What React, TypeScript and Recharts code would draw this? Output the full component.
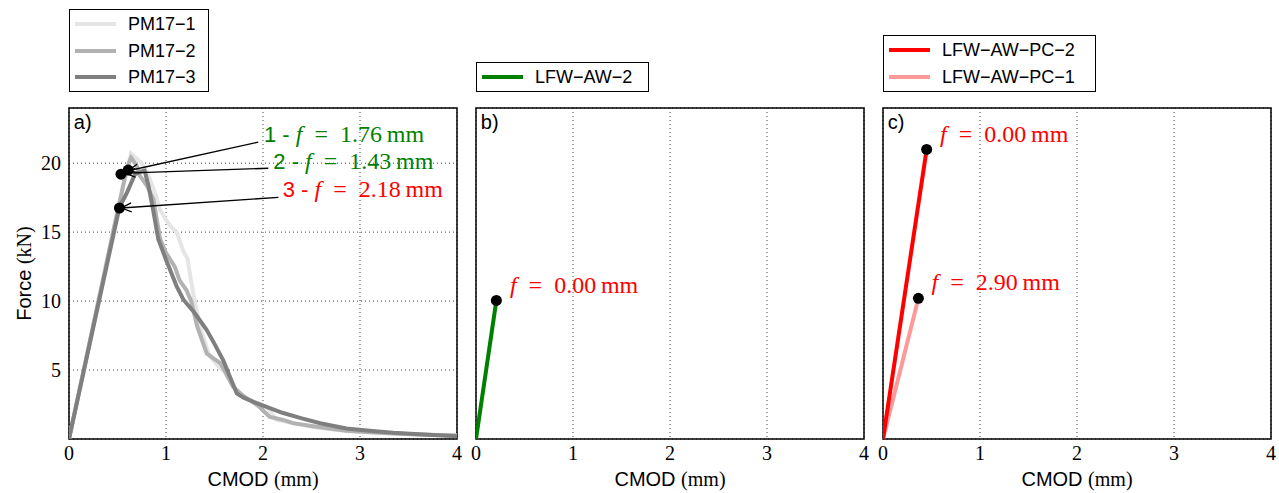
import React from 'react'
import { LineChart, Line, XAxis, YAxis, CartesianGrid, ReferenceArea, ReferenceDot, ReferenceLine } from 'recharts'

const xTicks = [0, 1, 2, 3, 4]
const yTicks = [5, 10, 15, 20]

// panel a) PM17 specimens (CMOD in mm, force in kN)
const pm1X = [0, 0.2, 0.4, 0.55, 0.64, 0.75, 0.82, 0.9, 0.94, 1.0, 1.05, 1.11, 1.18, 1.22, 1.28, 1.35, 1.45, 1.55, 1.63, 1.73, 1.85, 2.04, 2.14, 2.3, 2.52, 2.75, 3.0, 3.3, 3.6, 4.0]
const pm1Y = [0, 6.6, 13.2, 18.1, 20.7, 20.0, 19.1, 17.6, 16.6, 15.9, 15.4, 15.0, 13.6, 13.1, 10.6, 8.15, 6.0, 5.2, 4.75, 3.4, 2.9, 2.3, 1.4, 1.15, 0.87, 0.65, 0.5, 0.4, 0.32, 0.25]
const pm2X = [0, 0.3, 0.5, 0.6, 0.64, 0.7, 0.73, 0.8, 0.87, 0.94, 1.0, 1.09, 1.14, 1.21, 1.26, 1.32, 1.42, 1.5, 1.56, 1.69, 1.8, 1.95, 2.07, 2.2, 2.31, 2.5, 2.86, 3.2, 3.6, 4.0]
const pm2Y = [0, 9.9, 16.5, 19.7, 20.4, 19.8, 19.1, 18.4, 17.4, 14.5, 13.5, 12.5, 11.5, 10.8, 10.0, 8.2, 6.2, 5.8, 5.5, 3.8, 3.1, 2.4, 1.6, 1.4, 1.15, 0.95, 0.6, 0.45, 0.33, 0.25]
const pm3X = [0, 0.3, 0.52, 0.6, 0.68, 0.75, 0.78, 0.82, 0.87, 0.92, 1.0, 1.04, 1.11, 1.18, 1.3, 1.42, 1.5, 1.59, 1.66, 1.73, 1.8, 1.9, 2.05, 2.2, 2.4, 2.59, 2.86, 3.1, 3.34, 3.7, 4.0]
const pm3Y = [0, 9.7, 16.8, 17.9, 19.2, 19.4, 19.45, 18.35, 16.5, 14.5, 13.0, 12.3, 11.07, 10.1, 9.1, 7.9, 6.9, 5.7, 4.5, 3.3, 3.0, 2.7, 2.3, 1.9, 1.5, 1.14, 0.76, 0.6, 0.45, 0.3, 0.2]

// panel b)
const aw2X = [0, 0.21]
const aw2Y = [0, 10.05]

// panel c)
const pc1X = [0, 0.365]
const pc1Y = [0, 10.2]
const pc2X = [0, 0.45]
const pc2Y = [0, 21.0]

const SERIF = '"Liberation Serif", "DejaVu Serif", serif'
const SANS = '"Liberation Sans", Arial, sans-serif'
const GREEN = '#008000'
const RED = '#ff0000'

const toPts = (xs: number[], ys: number[]) => xs.map((x, i) => ({ x, y: ys[i] }))

type Series = { name: string; color: string; points: { x: number; y: number }[] }
type Note = { x: number; y: number; prefix?: string; value: string; color: string }
type Arrow = { from: [number, number]; to: [number, number] }

const panels = [
  {
    id: 'a',
    left: 69,
    showY: true,
    legend: { top: 9, width: 140, height: 83 },
    series: [
      { name: 'PM17\u22121', color: '#e5e5e5', points: toPts(pm1X, pm1Y) },
      { name: 'PM17\u22122', color: '#b2b2b2', points: toPts(pm2X, pm2Y) },
      { name: 'PM17\u22123', color: '#7f7f7f', points: toPts(pm3X, pm3Y) },
    ] as Series[],
    legendOrder: [0, 1, 2],
    drawOrder: [0, 1, 2],
    dots: [[0.536, 19.2], [0.61, 19.5], [0.52, 16.75]] as [number, number][],
    arrows: [
      { from: [1.951, 21.53], to: [0.611, 19.45] },
      { from: [2.055, 19.63], to: [0.58, 19.28] },
      { from: [2.158, 17.52], to: [0.54, 16.75] },
    ] as Arrow[],
    notes: [
      { x: 2.01, y: 21.56, prefix: '1 - ', value: '1.76', color: GREEN },
      { x: 2.106, y: 19.56, prefix: '2 - ', value: '1.43', color: GREEN },
      { x: 2.203, y: 17.52, prefix: '3 - ', value: '2.18', color: RED },
    ] as Note[],
  },
  {
    id: 'b',
    left: 476,
    showY: false,
    legend: { top: 62, width: 173, height: 30 },
    series: [{ name: 'LFW\u2212AW\u22122', color: GREEN, points: toPts(aw2X, aw2Y) }] as Series[],
    legendOrder: [0],
    drawOrder: [0],
    dots: [[0.21, 10.05]] as [number, number][],
    arrows: [] as Arrow[],
    notes: [{ x: 0.35, y: 10.6, value: '0.00', color: RED }] as Note[],
  },
  {
    id: 'c',
    left: 883,
    showY: false,
    legend: { top: 35, width: 213, height: 57 },
    series: [
      { name: 'LFW\u2212AW\u2212PC\u22121', color: '#ff9999', points: toPts(pc1X, pc1Y) },
      { name: 'LFW\u2212AW\u2212PC\u22122', color: RED, points: toPts(pc2X, pc2Y) },
    ] as Series[],
    legendOrder: [1, 0],
    drawOrder: [0, 1],
    dots: [[0.45, 21.0], [0.365, 10.2]] as [number, number][],
    arrows: [] as Arrow[],
    notes: [
      { x: 0.588, y: 21.56, value: '0.00', color: RED },
      { x: 0.5, y: 10.8, value: '2.90', color: RED },
    ] as Note[],
  },
]

const YW = 69
const PLOT_W = 388
const CHART_W = YW + PLOT_W + 13
const CHART_H = 493

function ArrowShape(p: any) {
  const { x1, y1, x2, y2 } = p
  const a = Math.atan2(y2 - y1, x2 - x1)
  const L = 11
  const s = 0.42
  const h1x = x2 - L * Math.cos(a - s)
  const h1y = y2 - L * Math.sin(a - s)
  const h2x = x2 - L * Math.cos(a + s)
  const h2y = y2 - L * Math.sin(a + s)
  return (
    <g>
      <line x1={x1} y1={y1} x2={x2} y2={y2} stroke="#000" strokeWidth={1.3} />
      <path d={`M${h1x},${h1y}L${x2},${y2}L${h2x},${h2y}`} fill="none" stroke="#000" strokeWidth={1.3} />
    </g>
  )
}

function noteShape(n: Note) {
  return (p: any) => (
    <text x={p.cx} y={p.cy} fill={n.color} fontSize={24} style={{ whiteSpace: 'pre' }}>
      {n.prefix && <tspan fontFamily={SANS} fontSize={22}>{n.prefix}</tspan>}
      <tspan fontFamily={SERIF} fontStyle="italic">f</tspan>
      <tspan fontFamily={SERIF}>{`\u2002=\u2002${n.value}\u2009mm`}</tspan>
    </text>
  )
}

function Legend({ panel }: { panel: (typeof panels)[number] }) {
  const { legend } = panel
  return (
    <div
      style={{
        position: 'absolute',
        left: panel.left,
        top: legend.top,
        width: legend.width,
        height: legend.height,
        boxSizing: 'border-box',
        border: '1.5px solid #000',
        background: '#fff',
        paddingTop: 1,
        fontFamily: SANS,
        fontSize: 18,
      }}
    >
      {panel.legendOrder.map((i) => {
        const s = panel.series[i]
        return (
          <div key={s.name} style={{ height: 26.5, display: 'flex', alignItems: 'center' }}>
            <span style={{ display: 'inline-block', width: 41, height: 4, marginLeft: 5, background: s.color }} />
            <span style={{ marginLeft: 12, lineHeight: '18px' }}>{s.name}</span>
          </div>
        )
      })}
    </div>
  )
}

function Panel({ panel }: { panel: (typeof panels)[number] }) {
  return (
    <div style={{ position: 'absolute', left: panel.left - YW, top: 0 }}>
      <LineChart width={CHART_W} height={CHART_H} margin={{ top: 108, right: 13, bottom: 0, left: 0 }}>
        <CartesianGrid stroke="#444" strokeDasharray="1 3" strokeWidth={1} />
        <XAxis
          dataKey="x"
          type="number"
          domain={[0, 4]}
          ticks={xTicks}
          allowDataOverflow
          height={54}
          axisLine={false}
          tickLine={false}
          tickSize={6}
          tickMargin={1}
          tick={{ fontFamily: SERIF, fontSize: 20, fill: '#000' }}
          label={{
            content: (lp: any) => {
              const vb = lp.viewBox
              return (
                <text x={vb.x + vb.width / 2} y={vb.y + 47} textAnchor="middle" fontSize={20} fill="#000">
                  <tspan fontFamily={SANS}>CMOD </tspan>
                  <tspan fontFamily={SERIF}>(mm)</tspan>
                </text>
              )
            },
          }}
        />
        <YAxis
          type="number"
          domain={[0, 24]}
          ticks={yTicks}
          allowDataOverflow
          width={YW}
          axisLine={false}
          tickLine={false}
          tick={panel.showY ? { fontFamily: SERIF, fontSize: 20, fill: '#000' } : false}
          label={
            panel.showY
              ? {
                  content: (lp: any) => {
                    const vb = lp.viewBox
                    const cx = 31
                    const cy = vb.y + vb.height / 2
                    return (
                      <text x={cx} y={cy} textAnchor="middle" fontSize={20} fill="#000" transform={`rotate(-90 ${cx} ${cy})`}>
                        <tspan fontFamily={SANS}>Force </tspan>
                        <tspan fontFamily={SERIF}>(kN)</tspan>
                      </text>
                    )
                  },
                }
              : undefined
          }
        />
        <ReferenceArea x1={0} x2={4} y1={0} y2={24} fill="none" stroke="#000" strokeWidth={1.5} ifOverflow="visible" />
        {panel.drawOrder.map((i) => {
          const s = panel.series[i]
          return (
            <Line
              key={s.name}
              data={s.points}
              dataKey="y"
              type="linear"
              stroke={s.color}
              strokeWidth={4}
              dot={false}
              activeDot={false}
              isAnimationActive={false}
            />
          )
        })}
        {panel.arrows.map((a, i) => (
          <ReferenceLine
            key={`ar${i}`}
            segment={[{ x: a.from[0], y: a.from[1] }, { x: a.to[0], y: a.to[1] }]}
            ifOverflow="visible"
            shape={ArrowShape}
          />
        ))}
        {panel.dots.map((d, i) => (
          <ReferenceDot key={`d${i}`} x={d[0]} y={d[1]} r={5.5} fill="#000" stroke="none" ifOverflow="visible" />
        ))}
        {panel.notes.map((n, i) => (
          <ReferenceDot key={`n${i}`} x={n.x} y={n.y} r={0} ifOverflow="visible" shape={noteShape(n)} />
        ))}
        <ReferenceDot
          x={0.05}
          y={22.5}
          r={0}
          ifOverflow="visible"
          shape={(p: any) => (
            <text x={p.cx} y={p.cy} fontFamily={SANS} fontSize={20} fill="#000">
              {panel.id})
            </text>
          )}
        />
      </LineChart>
    </div>
  )
}

export default function App() {
  return (
    <div style={{ position: 'absolute', left: 0, top: 0, width: 1279, height: 493, background: '#fff' }}>
      {panels.map((p) => (
        <Panel key={p.id} panel={p} />
      ))}
      {panels.map((p) => (
        <Legend key={`l${p.id}`} panel={p} />
      ))}
    </div>
  )
}
